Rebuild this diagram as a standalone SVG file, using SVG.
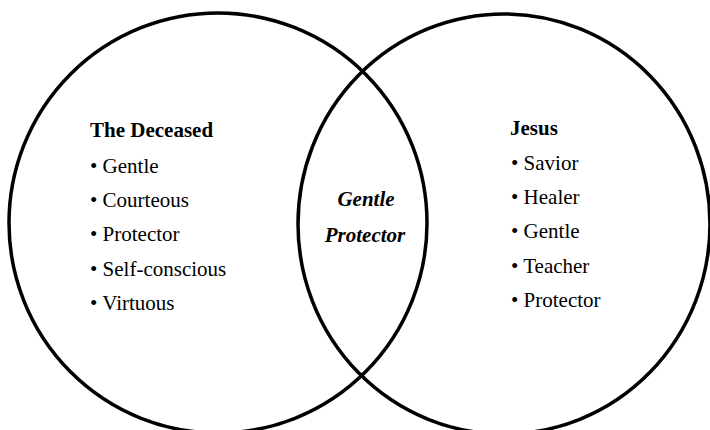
<svg xmlns="http://www.w3.org/2000/svg" width="710" height="430" viewBox="0 0 710 430">
<style>
.ring{fill:none;stroke:#000;stroke-width:3.5}
text{font-family:"Liberation Serif","Times New Roman",serif;fill:#000;font-size:21px}
.title{font-weight:bold;font-size:21px}
.mid{font-weight:bold;font-style:italic;font-size:21px;text-anchor:middle}
</style>
<rect width="710" height="430" fill="#fff"/>
<g id="deceased">
<ellipse class="ring" cx="218" cy="223" rx="209" ry="210"/>
<text class="title" x="90" y="137">The Deceased</text>
<text x="90" y="173">• Gentle</text>
<text x="90" y="207">• Courteous</text>
<text x="90" y="241">• Protector</text>
<text x="90" y="276">• Self-conscious</text>
<text x="90" y="310">• Virtuous</text>
</g>
<g id="jesus">
<ellipse class="ring" cx="504" cy="224" rx="206" ry="210"/>
<text class="title" x="510" y="135">Jesus</text>
<text x="511" y="170">• Savior</text>
<text x="511" y="204">• Healer</text>
<text x="511" y="238">• Gentle</text>
<text x="511" y="273">• Teacher</text>
<text x="511" y="307">• Protector</text>
</g>
<g id="overlap">
<text class="mid" x="366" y="206">Gentle</text>
<text class="mid" x="365" y="242">Protector</text>
</g>
</svg>
